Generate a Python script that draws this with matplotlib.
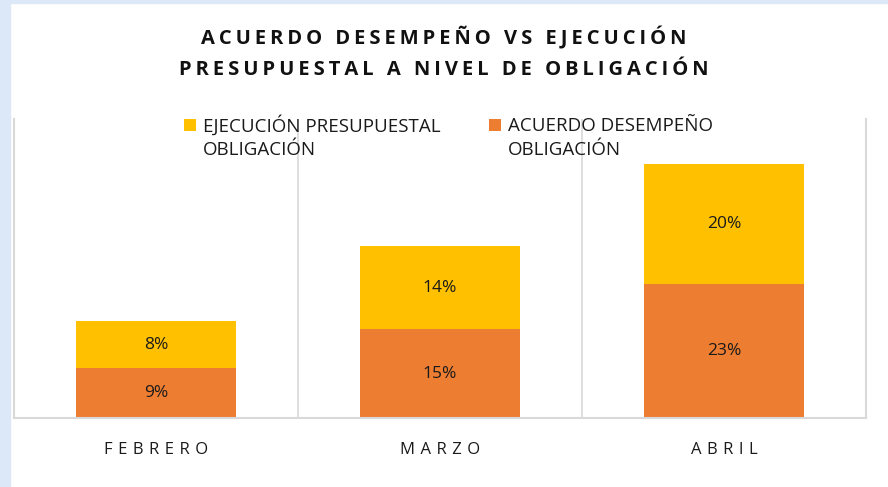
import matplotlib.pyplot as plt
from matplotlib.patches import Rectangle

meses = ["FEBRERO", "MARZO", "ABRIL"]
acuerdo = [8.6, 15.3, 23.1]      # acuerdo desempeño obligación (%)
ejecucion = [8.1, 14.3, 20.7]    # ejecución presupuestal obligación (%)
acuerdo_lbl = ["9%", "15%", "23%"]
ejecucion_lbl = ["8%", "14%", "20%"]

NARANJA = "#ED7D31"
AMARILLO = "#FFC000"
GRIS = "#D9D9D9"

plt.rcParams['font.family'] = ['Open Sans', 'DejaVu Sans']


def espaciar(texto, sep="\u2009"):
    # simula el espaciado entre letras del titulo original
    return sep.join(texto)


fig = plt.figure(figsize=(8.88, 4.87), dpi=100)
fig.patches.append(Rectangle((0, 0), 10 / 888, 1, transform=fig.transFigure,
                             color="#DCE7F7", zorder=0))
fig.patches.append(Rectangle((0, 1 - 3 / 487), 1, 3 / 487, transform=fig.transFigure,
                             color="#DCE7F7", zorder=0))

ax = fig.add_axes([14 / 888, 69 / 487, 852 / 888, 299 / 487])
x = list(range(len(meses)))

b1 = ax.bar(x, acuerdo, width=0.56, color=NARANJA, zorder=2,
            label="ACUERDO DESEMPEÑO")
b2 = ax.bar(x, ejecucion, width=0.56, bottom=acuerdo, color=AMARILLO, zorder=2,
            label="EJECUCIÓN PRESUPUESTAL")

for i in x:
    ax.text(i, acuerdo[i] / 2, acuerdo_lbl[i], ha="center", va="center",
            fontsize=12.5, color="#1a1a1a", zorder=3)
    ax.text(i, acuerdo[i] + ejecucion[i] / 2, ejecucion_lbl[i], ha="center",
            va="center", fontsize=12.5, color="#1a1a1a", zorder=3)

ax.set_xlim(-0.5, 2.5)
ax.set_ylim(0, 51.5)
ax.set_yticks([])
ax.set_xticks(x)
ax.set_xticklabels([espaciar(m, "\u2009\u2009") for m in meses], fontsize=12,
                   color="#1a1a1a")
ax.tick_params(axis="x", length=0, pad=17)

for g in [0.5, 1.5]:
    ax.axvline(g, color=GRIS, lw=1.2, zorder=1)
ax.spines["top"].set_visible(False)
for s in ["left", "right", "bottom"]:
    ax.spines[s].set_color(GRIS)
    ax.spines[s].set_linewidth(1.5)

fig.text(0.5, 1 - 38 / 487, espaciar("ACUERDO DESEMPEÑO VS EJECUCIÓN"),
         ha="center", va="center", fontsize=14.5, fontweight="bold", color="#111111")
fig.text(0.5, 1 - 70 / 487, espaciar("PRESUPUESTAL A NIVEL DE OBLIGACIÓN"),
         ha="center", va="center", fontsize=14.5, fontweight="bold", color="#111111")

leg = fig.legend(handles=[b2, b1], loc="center left",
                 bbox_to_anchor=(184 / 888, 1 - 125 / 487),
                 ncol=2, frameon=False, fontsize=13.5, handlelength=0.65,
                 handleheight=0.65, handletextpad=0.35, columnspacing=2.6,
                 borderpad=0, borderaxespad=0)
for t in leg.get_texts():
    t.set_color("#1a1a1a")

# segunda linea de cada entrada de la leyenda
fig.canvas.draw()
inv = fig.transFigure.inverted()
for t in leg.get_texts():
    bb = t.get_window_extent()
    x0 = inv.transform((bb.x0, 0))[0]
    fig.text(x0, 1 - 150 / 487, "OBLIGACIÓN", ha="left", va="center",
             fontsize=13.5, color="#1a1a1a")

fig.savefig("out.png", dpi=100)
